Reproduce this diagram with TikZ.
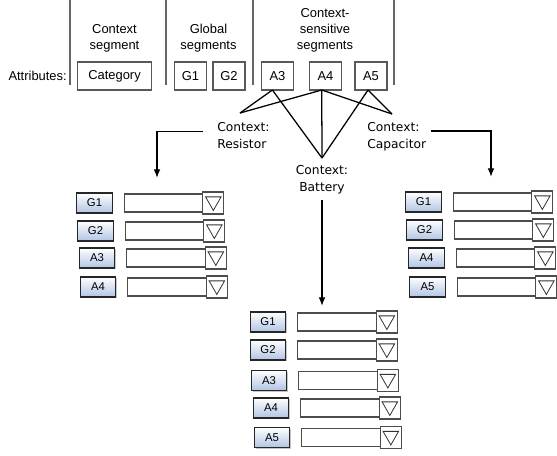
\documentclass[tikz,border=0pt]{standalone}
\usepackage{fontspec}
\setmainfont{Liberation Sans}
\newfontfamily\ctxfont{DejaVu Sans}
\usetikzlibrary{positioning,shadows,arrows.meta}
\definecolor{btnblue}{RGB}{176,196,228}
\tikzset{
  seg/.style={draw=black!65, line width=0.9pt, minimum width=24pt, minimum height=21pt,
    inner sep=2pt, outer sep=0pt, font=\fontsize{9.7}{12}\selectfont},
  attr/.style={draw=black!85, line width=0.8pt, top color=white, bottom color=btnblue,
    minimum width=26.5pt, minimum height=15pt, inner sep=0pt, outer sep=0pt,
    font=\fontsize{8.5}{10}\selectfont,
    drop shadow={shadow xshift=0.9pt, shadow yshift=-0.9pt, opacity=0.45}},
  field/.style={draw=black!70, line width=0.8pt, minimum width=59pt, minimum height=13.5pt,
    inner sep=0pt, outer sep=0pt},
  drop/.style={draw=black!70, line width=0.8pt, fill=white, minimum width=15.75pt,
    minimum height=16.5pt, inner sep=0pt, outer sep=0pt,
    path picture={\draw[black!80, line width=0.6pt]
      ([shift={(-5.8pt,4.6pt)}]path picture bounding box.center)
      -- ([shift={(5.8pt,4.6pt)}]path picture bounding box.center)
      -- ([shift={(0pt,-5.6pt)}]path picture bounding box.center) -- cycle;}},
  ctx/.style={align=left, font=\ctxfont\fontsize{9.2}{12.5}\selectfont, inner sep=0pt},
  link/.style={line width=0.95pt},
  sep/.style={draw=black!60, line width=1.3pt},
  >={Latex[length=6.5pt,width=5pt]}
}
\begin{document}
\begin{tikzpicture}[x=0.75pt, y=-0.75pt]
		\useasboundingbox (0,0) rectangle (557,455);
		
		\draw[sep] (70,0) -- (70,85);
		\draw[sep] (166,0) -- (166,85);
		\draw[sep] (253,0) -- (253,85);
		\draw[sep] (394,0) -- (394,85);
		
		\node[align=center, font=\fontsize{9.7}{12}\selectfont] (hctx) at (114.5,38) {Context\\segment};
		\node[align=center, font=\fontsize{9.7}{12}\selectfont] (hglob) at (208.5,38) {Global\\segments};
		\node[align=center, font=\fontsize{9.7}{12}\selectfont] (hsens) at (325,30) {Context-\\sensitive\\segments};
		\node[anchor=east, inner sep=0pt, font=\fontsize{9.7}{12}\selectfont] (lattr) at (67,76) {Attributes:};
		
		\node[seg, minimum width=56pt] (cat) at (114.5,76) {Category};
		\node[seg] (g1) at (190.5,76) {G1};
		\node[seg] (g2) at (229,76) {G2};
		\node[seg] (a3) at (277.5,76) {A3};
		\node[seg] (a4) at (325.5,76) {A4};
		\node[seg] (a5) at (371,76) {A5};
		
		\node[ctx, anchor=north west] (res) at (217,122) {Context:\\Resistor};
		\node[ctx, anchor=north west] (cap) at (367,122) {Context:\\Capacitor};
		\node[ctx, anchor=north, align=center] (bat) at (322,165) {Context:\\Battery};
		
		\coordinate (restip) at (240,113);
		\coordinate (captip) at (392,114);
		\coordinate (battip) at (322,158);
		\draw[link] (a3.250) -- (restip);
		\draw[link] (a4.255) -- (restip);
		\draw[link] (a3.250) -- (battip);
		\draw[link] (a4.255) -- (battip);
		\draw[link] (a5.258) -- (battip);
		\draw[link] (a4.255) -- (captip);
		\draw[link] (a5.258) -- (captip);
		
		\coordinate (resend) at (157,178);
		\coordinate (capend) at (491,177);
		\coordinate (batend) at (322,306);
		\draw[link, ->] ([xshift=-10.5pt, yshift=3pt]res.west) -| (resend);
		\draw[link, ->] ([xshift=3.75pt, yshift=4pt]cap.east) -| (capend);
		\draw[link, ->] ([yshift=-4.5pt]bat.south) -- (batend);
		
		\node[attr] (rg1) at (94.5,203) {G1};
		\node[field, right=9pt of rg1] (rg1f) {};
		\node[drop, right=0pt of rg1f] (rg1d) {};
		\node[attr] (rg2) at (95.5,231) {G2};
		\node[field, right=9pt of rg2] (rg2f) {};
		\node[drop, right=0pt of rg2f] (rg2d) {};
		\node[attr] (ra3) at (97,258) {A3};
		\node[field, right=9pt of ra3] (ra3f) {};
		\node[drop, right=0pt of ra3f] (ra3d) {};
		\node[attr] (ra4) at (98,287) {A4};
		\node[field, right=9pt of ra4] (ra4f) {};
		\node[drop, right=0pt of ra4f] (ra4d) {};
		
		\node[attr] (cg1) at (423.5,202) {G1};
		\node[field, right=9pt of cg1] (cg1f) {};
		\node[drop, right=0pt of cg1f] (cg1d) {};
		\node[attr] (cg2) at (424.5,230) {G2};
		\node[field, right=9pt of cg2] (cg2f) {};
		\node[drop, right=0pt of cg2f] (cg2d) {};
		\node[attr] (ca4) at (426.5,258) {A4};
		\node[field, right=9pt of ca4] (ca4f) {};
		\node[drop, right=0pt of ca4f] (ca4d) {};
		\node[attr] (ca5) at (427.5,287) {A5};
		\node[field, right=9pt of ca5] (ca5f) {};
		\node[drop, right=0pt of ca5f] (ca5d) {};
		
		\node[attr] (bg1) at (268,322) {G1};
		\node[field, right=9pt of bg1] (bg1f) {};
		\node[drop, right=0pt of bg1f] (bg1d) {};
		\node[attr] (bg2) at (268,350) {G2};
		\node[field, right=9pt of bg2] (bg2f) {};
		\node[drop, right=0pt of bg2f] (bg2d) {};
		\node[attr] (ba3) at (269,380.5) {A3};
		\node[field, right=9pt of ba3] (ba3f) {};
		\node[drop, right=0pt of ba3f] (ba3d) {};
		\node[attr] (ba4) at (271,408) {A4};
		\node[field, right=9pt of ba4] (ba4f) {};
		\node[drop, right=0pt of ba4f] (ba4d) {};
		\node[attr] (ba5) at (272,437.5) {A5};
		\node[field, right=9pt of ba5] (ba5f) {};
		\node[drop, right=0pt of ba5f] (ba5d) {};
		
\end{tikzpicture}
\end{document}
